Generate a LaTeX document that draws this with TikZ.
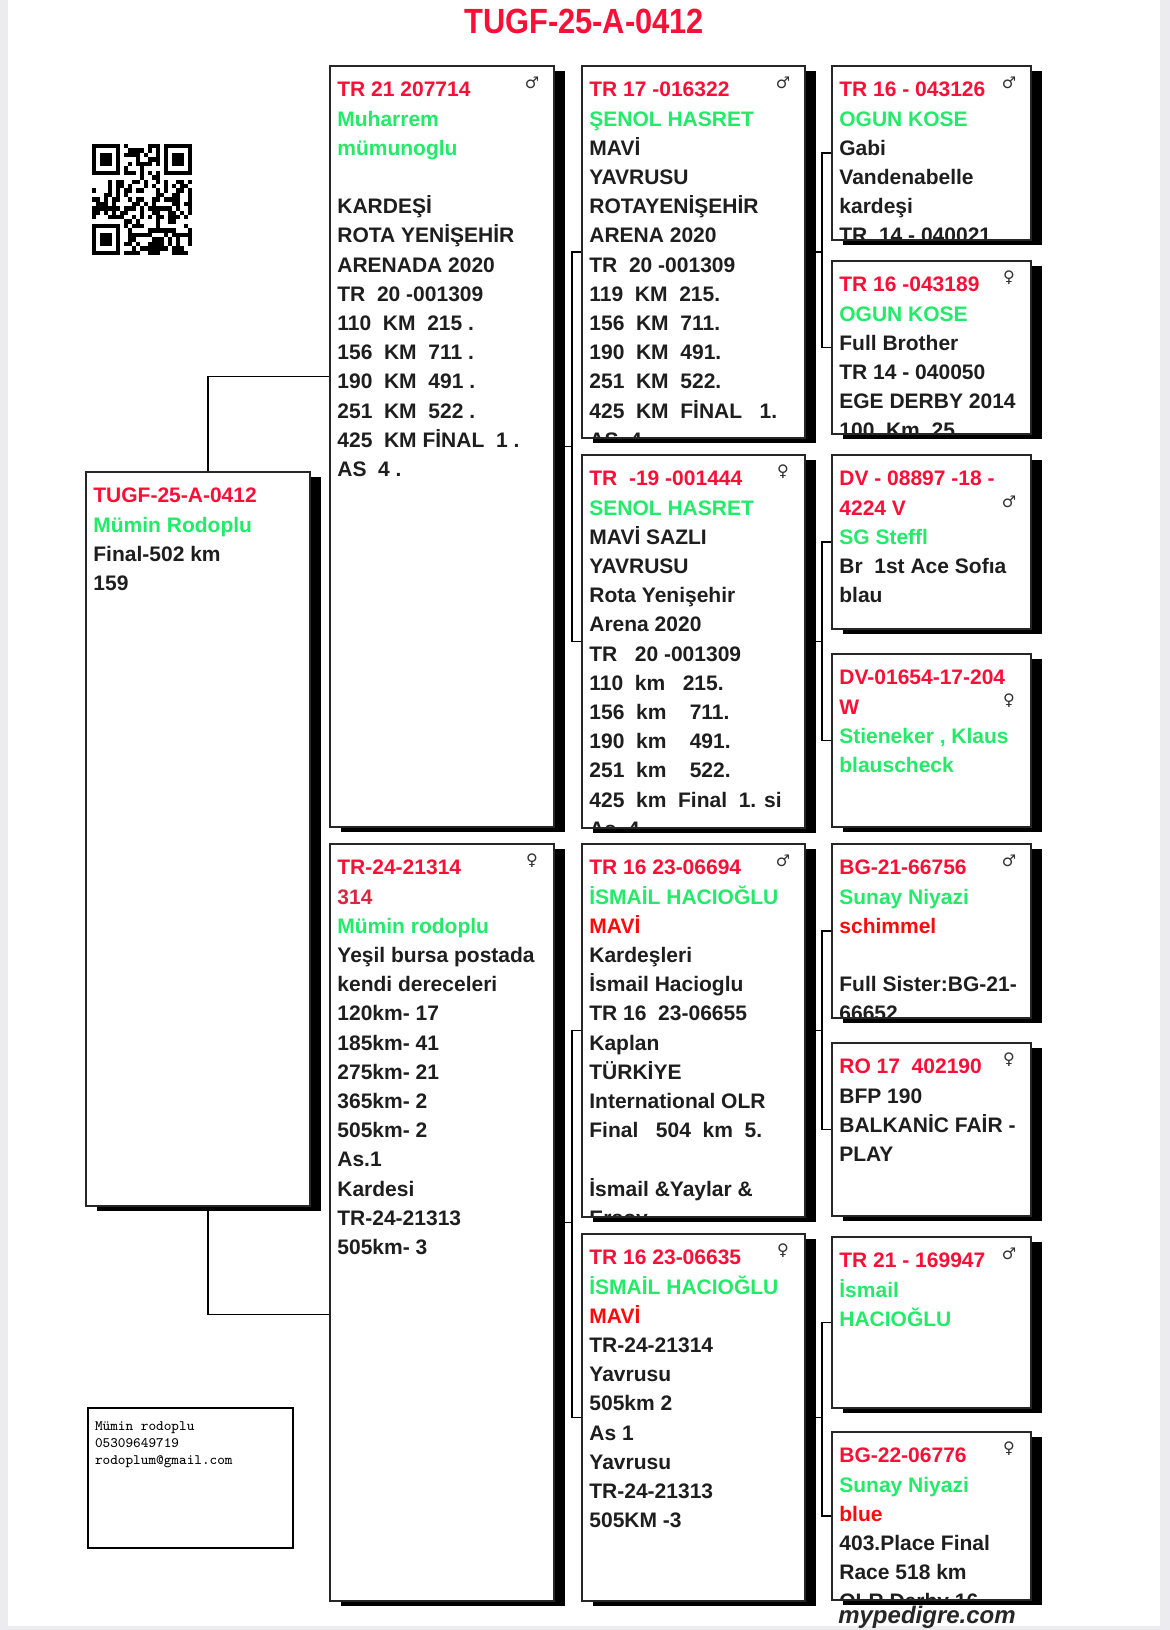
\documentclass[tikz,border=0pt]{standalone}
\usepackage{fontspec}
\setmainfont{Liberation Sans}
\newfontfamily\symfont{DejaVu Sans}
\usepackage{xcolor}
\usepackage{graphicx}
\usepackage{tikz}

\definecolor{idred}{RGB}{250,15,55}
\definecolor{purered}{RGB}{255,10,10}
\definecolor{namegreen}{RGB}{35,235,105}
\definecolor{darkid}{RGB}{215,40,65}
\definecolor{inktext}{RGB}{30,30,30}
\definecolor{pagegrey}{RGB}{236,236,240}

\pgfdeclarelayer{paper}
\pgfdeclarelayer{wires}
\pgfsetlayers{paper,wires,main}

\newcommand{\pid}[1]{\textcolor{idred}{#1}}
\newcommand{\pnm}[1]{\textcolor{namegreen}{#1}}
\newcommand{\pcl}[1]{\textcolor{purered}{#1}}

% one pedigree card: name, x, y, width, height, lines
\newcommand{\pedbox}[6]{%
  \fill[dropshadow] (#2+11,#3+5) rectangle ++(#4,#5);
  \node[pbox,minimum width=#4*0.5pt,minimum height=#5*0.5pt] (#1) at (#2,#3) {};
  \begin{scope}
    \clip (#1.north west) rectangle (#1.south east);
    \node[ptext] (#1t) at (#1.north west) {\rule{0pt}{15.25pt}#6};
  \end{scope}
  \draw[pline] (#1.north west) rectangle (#1.south east);
}

\begin{document}
\begin{tikzpicture}[x=0.5pt,y=-0.5pt,
  pbox/.style={rectangle,anchor=north west,fill=white,draw=black!85,line width=0.7pt,inner sep=0pt,outer sep=0pt},
  ptext/.style={anchor=north west,align=left,inner xsep=3.5pt,inner ysep=0pt,
    font=\fontsize{10.5pt}{14.6pt}\selectfont\bfseries,text=inktext},
  dropshadow/.style={fill=black},
  pline/.style={draw=black!85,line width=0.7pt},
  link/.style={line width=0.75pt},
  sexsym/.style={font=\symfont\fontsize{8pt}{8pt}\selectfont,text=black!80,inner sep=0pt},
  title/.style={font=\fontsize{17.5pt}{17.5pt}\selectfont\bfseries,text=idred,inner sep=0pt},
  contact/.style={rectangle,anchor=north west,draw=black,line width=1pt,fill=white,inner sep=0pt,outer sep=0pt},
  contacttext/.style={anchor=north west,align=left,inner xsep=3.3pt,inner ysep=0pt,
    font=\ttfamily\fontsize{7.2pt}{8.5pt}\selectfont},
  brand/.style={anchor=base,font=\fontsize{12pt}{12pt}\selectfont\bfseries\itshape,text=black!85,inner sep=0pt}]

\useasboundingbox (0,0) rectangle (1170,1630);
\begin{pgfonlayer}{paper}
\fill[pagegrey] (0,0) rectangle (1170,1630);
\fill[white] (8,0) rectangle (1160,1626);
\end{pgfonlayer}

\node[title] (ttl) at (584,21) {\scalebox{0.88}[1]{TUGF-25-A-0412}};

% QR code
\pgfmathsetseed{7}
\begin{scope}[shift={(92,144)},x=2pt,y=-2.22pt]
\foreach \i in {0,...,24}
  \foreach \j in {0,...,24} {
    \pgfmathtruncatemacro\dark{(rnd<0.5)&&!((\i<8&&\j<8)||(\i>16&&\j<8)||(\i<8&&\j>16))}
    \ifnum\dark=1 \fill (\i,\j) rectangle ++(1,1); \fi
  }
\foreach \fx/\fy in {0/0,18/0,0/18} {
  \fill (\fx,\fy) rectangle ++(7,7);
  \fill[white] (\fx+1,\fy+1) rectangle ++(5,5);
  \fill (\fx+2,\fy+2) rectangle ++(3,3);
}
\end{scope}

% subject
\pedbox{s}{86}{472}{224}{734}{\pid{TUGF-25-A-0412}\\ \pnm{Mümin Rodoplu}\\ Final-502 km\\ 159}

% parents
\pedbox{c1a}{330}{66}{224}{761}{\pid{TR 21 207714}\\ \pnm{Muharrem}\\ \pnm{mümunoglu}\\ ~\\
  KARDEŞİ\\ ROTA YENİŞEHİR\\ ARENADA 2020\\ TR~ 20 -001309\\ 110~ KM~ 215 .\\ 156~ KM~ 711 .\\
  190~ KM~ 491 .\\ 251~ KM~ 522 .\\ 425~ KM FİNAL~ 1 .\\ AS~ 4 .}
\pedbox{c1b}{330}{844}{224}{757}{\pid{TR-24-21314}\\ \textcolor{darkid}{314}\\ \pnm{Mümin rodoplu}\\
  Yeşil bursa postada\\ kendi dereceleri\\ 120km- 17\\ 185km- 41\\ 275km- 21\\ 365km- 2\\ 505km- 2\\
  As.1\\ Kardesi\\ TR-24-21313\\ 505km- 3}

% grandparents
\pedbox{c2a}{582}{66}{223}{372}{\pid{TR 17 -016322}\\ \pnm{ŞENOL HASRET}\\ MAVİ\\ YAVRUSU\\ ROTAYENİŞEHİR\\
  ARENA 2020\\ TR~ 20 -001309\\ 119~ KM~ 215.\\ 156~ KM~ 711.\\ 190~ KM~ 491.\\ 251~ KM~ 522.\\
  425~ KM~ FİNAL~~ 1.\\ AS~ 4}
\pedbox{c2b}{582}{455}{223}{373}{\pid{TR~ -19 -001444}\\ \pnm{SENOL HASRET}\\ MAVİ SAZLI\\ YAVRUSU\\
  Rota Yenişehir\\ Arena 2020\\ TR~~ 20 -001309\\ 110~ km~~ 215.\\ 156~ km~~~ 711.\\ 190~ km~~~ 491.\\
  251~ km~~~ 522.\\ 425~ km~ Final~ 1. si\\ As~ 4}
\pedbox{c2c}{582}{844}{223}{373}{\pid{TR 16 23-06694}\\ \pnm{İSMAİL HACIOĞLU}\\ \pcl{MAVİ}\\ Kardeşleri\\
  İsmail Hacioglu\\ TR 16~ 23-06655\\ Kaplan\\ TÜRKİYE\\ International OLR\\ Final~~ 504~ km~ 5.\\ ~\\
  İsmail \&Yaylar \&\\ Ersoy}
\pedbox{c2d}{582}{1234}{223}{367}{\pid{TR 16 23-06635}\\ \pnm{İSMAİL HACIOĞLU}\\ \pcl{MAVİ}\\ TR-24-21314\\
  Yavrusu\\ 505km 2\\ As 1\\ Yavrusu\\ TR-24-21313\\ 505KM -3}

% great-grandparents
\pedbox{c3a}{832}{66}{199}{174}{\pid{TR 16 - 043126}\\ \pnm{OGUN KOSE}\\ Gabi\\ Vandenabelle\\ kardeşi\\ TR~ 14 - 040021}
\pedbox{c3b}{832}{261}{199}{173}{\pid{TR 16 -043189}\\ \pnm{OGUN KOSE}\\ Full Brother\\ TR 14 - 040050\\ EGE DERBY 2014\\ 100~ Km~ 25}
\pedbox{c3c}{832}{455}{199}{174}{\pid{DV - 08897 -18 -}\\ \pid{4224 V}\\ \pnm{SG Steffl}\\ Br~ 1st Ace Sofıa\\ blau}
\pedbox{c3d}{832}{654}{199}{173}{\pid{DV-01654-17-204}\\ \pid{W}\\ \pnm{Stieneker , Klaus}\\ \pnm{blauscheck}}
\pedbox{c3e}{832}{844}{199}{174}{\pid{BG-21-66756}\\ \pnm{Sunay Niyazi}\\ \pcl{schimmel}\\ ~\\ Full Sister:BG-21-\\ 66652}
\pedbox{c3f}{832}{1043}{199}{173}{\pid{RO 17~ 402190}\\ BFP 190\\ BALKANİC FAİR -\\ PLAY}
\pedbox{c3g}{832}{1237}{199}{171}{\pid{TR 21 - 169947}\\ \pnm{İsmail}\\ \pnm{HACIOĞLU}}
\pedbox{c3h}{832}{1432}{199}{168}{\pid{BG-22-06776}\\ \pnm{Sunay Niyazi}\\ \pcl{blue}\\ 403.Place Final\\ Race 518 km\\ OLR Derby 16}

% sex marks
\foreach \b/\sx/\dy in {c1a/♂/17, c1b/♀/17, c2a/♂/17, c2b/♀/17, c2c/♂/17, c2d/♀/17,
    c3a/♂/17, c3b/♀/17, c3c/♂/47, c3d/♀/47, c3e/♂/17, c3f/♀/17, c3g/♂/17, c3h/♀/17}
  \node[sexsym] (\b-sx) at ([shift={(-22,\dy)}]\b.north east) {\sx};

% connectors
\begin{pgfonlayer}{wires}
\draw[link] ([shift={(0,-70)}]c1a.west) -| ([shift={(10,0)}]s.center) |- ([shift={(0,92)}]c1b.west);
\foreach \p/\a/\b in {c1a/c2a/c2b, c1b/c2c/c2d, c2a/c3a/c3b, c2b/c3c/c3d, c2c/c3e/c3f, c2d/c3g/c3h} {
  \draw[link] (\a.west) -- ++(-10,0) |- (\p.east);
  \draw[link] (\b.west) -- ++(-10,0) |- (\p.east);
}
\end{pgfonlayer}

% owner
\node[contact,minimum width=205*0.5pt,minimum height=140*0.5pt] (info) at (88,1408) {};
\node[contacttext] (infot) at (info.north west) {\rule{0pt}{11pt}Mümin rodoplu\\05309649719\\rodoplum@gmail.com};

\node[brand] (brand) at (927,1623) {mypedigre.com};
\end{tikzpicture}
\end{document}
